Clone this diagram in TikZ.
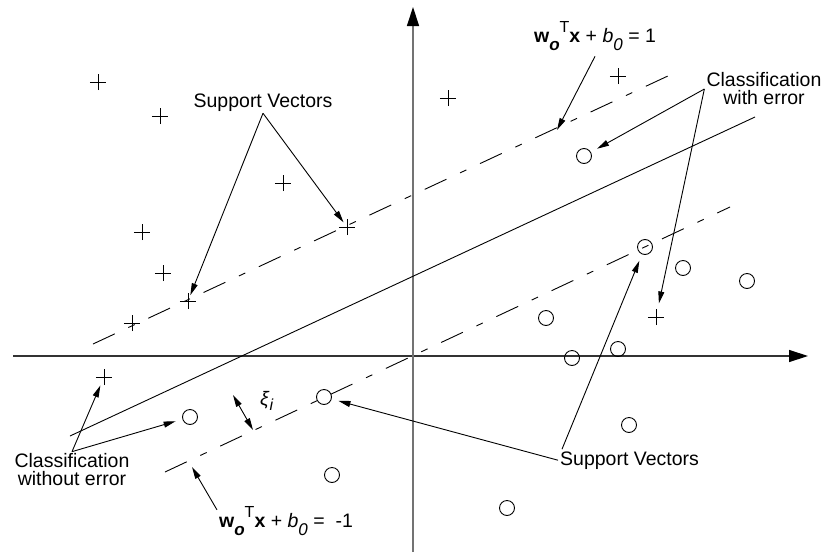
\documentclass[tikz,border=0pt]{standalone}
\usepackage{fontspec}
\setmainfont{Liberation Sans}
\usepackage{tikz}
\usetikzlibrary{arrows.meta,shapes.misc}
\newcommand{\lowsub}[1]{\raisebox{-8pt}{\fontsize{17}{17}\selectfont #1}}
\newcommand{\highsup}[1]{\raisebox{10pt}{\fontsize{16}{16}\selectfont #1}}

\begin{document}
\begin{tikzpicture}[
  x=1pt, y=-1pt,
  every node/.style={font=\fontsize{19.5}{18}\selectfont},
  lbl/.style={align=center, inner sep=2pt},
  plus/.style={cross out, draw, line width=0.9pt, minimum size=10.6pt,
               inner sep=0pt, rotate=45},
  dot/.style={circle, draw, line width=0.9pt, minimum size=15pt, inner sep=0pt},
  axis/.style={line width=1.3pt, -{Triangle[length=19pt,width=12pt,color=black]}},
  margin/.style={line width=0.9pt, dash pattern=on 24pt off 15pt on 7pt off 15pt},
  arr/.style={line width=0.9pt, -{Triangle[length=12pt,width=6pt]}},
  dbl/.style={line width=0.9pt, {Triangle[length=12pt,width=6pt]}-{Triangle[length=12pt,width=6pt]}},
  gap/.style={shorten >=7pt}
]
\useasboundingbox (0,0) rectangle (827,552);

% axes
\draw[axis, draw=black!80] (13,356) -- (808,356);
\draw[axis, draw=black!55] (413,552) -- (413,7);

% separating hyperplane and margins
\coordinate (h1) at (70,436);
\coordinate (h2) at (755,117);
\coordinate (u1) at (93,344);
\coordinate (u2) at (670,75);
\coordinate (l1) at (165,472);
\coordinate (l2) at (730,207);
\draw[line width=0.9pt] (h1) -- (h2);
\draw[margin] (u1) -- (u2);
\draw[margin] (l1) -- (l2);

% class +1
\foreach \n/\px/\py in {1/98/82, 2/160/116, 3/283/183, 4/142/232, 5/163/273,
    6/188/301, 7/132/323, 8/104/377, 9/347/227, 10/448/98, 11/618/76, 12/656/317}
  \node[plus] (p\n) at (\px,\py) {};

% class -1
\foreach \n/\px/\py in {1/584/156, 2/645/247, 3/683/268, 4/747/281, 5/546/318,
    6/572/358, 7/618/349, 8/629/425, 9/507/508, 10/190/417, 11/324/397, 12/332/475}
  \node[dot] (c\n) at (\px,\py) {};

% labels
\node[lbl, anchor=base] (svtop) at (263,107) {Support Vectors};
\node[lbl, anchor=base west] (svbot) at (558,465) {Support Vectors};
\node[lbl] (cwe) at (764,89) {Classification\\with error};
\node[lbl] (cwoe) at (72,470) {Classification\\without error};
\node[lbl, anchor=base] (eq1) at (595,42)
  {\textbf{w}\lowsub{\textbf{\textit{o}}}\highsup{T}\textbf{x} + \textit{b}\lowsub{\textit{0}} = 1};
\node[lbl, anchor=base] (eq2) at (286,527)
  {\textbf{w}\lowsub{\textbf{\textit{o}}}\highsup{T}\textbf{x} + \textit{b}\lowsub{\textit{0}} =\ \ -1};
\node[lbl, anchor=base west] (xi) at (258,405)
  {\textit{ξ}\raisebox{-5pt}{\fontsize{16}{16}\selectfont\textit{i}}};

% slack
\coordinate (xa) at (233,395);
\coordinate (xb) at (253,430);
\draw[dbl] (xa) -- (xb);

% pointers
\coordinate (m1) at (557,130);
\coordinate (m2) at (192,467);
\draw[arr] (svtop.south) -- (p6);
\draw[arr] (svtop.south) -- (p9);
\draw[arr] ([yshift=-4pt]eq1.south) -- (m1);
\draw[arr, gap] (cwe.west) -- (c1);
\draw[arr, gap] (cwe.west) -- (p12);
\draw[arr, shorten >=3pt] (cwoe.north) -- (p8);
\draw[arr, gap] (cwoe.north) -- (c10);
\draw[arr, gap] (svbot.west) -- (c11);
\draw[arr, gap] ([xshift=4pt]svbot.north west) -- (c2);
\draw[arr] ([yshift=-6pt]eq2.north west) -- (m2);

\end{tikzpicture}
\end{document}
